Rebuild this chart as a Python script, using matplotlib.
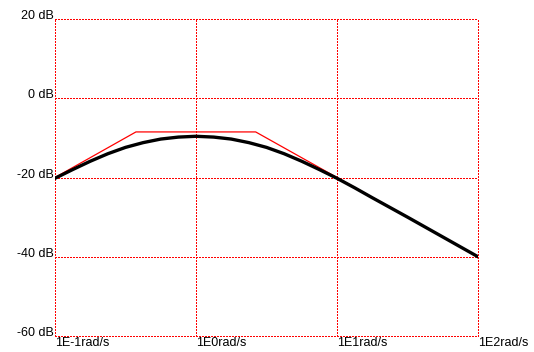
import matplotlib
matplotlib.use('Agg')
import matplotlib.pyplot as plt

# black curve: magnitude (rad/s, dB)
freq = [0.1, 0.1334, 0.1778, 0.2371, 0.3162, 0.4217, 0.5623, 0.7499, 1.0,
        1.334, 1.778, 2.371, 3.162, 4.217, 5.623, 7.499, 10.0, 13.34,
        17.78, 31.62, 56.23, 100.0]
mag = [-20.2, -18.0, -15.9, -14.0, -12.4, -11.2, -10.3, -9.8, -9.6,
       -9.8, -10.3, -11.2, -12.4, -14.0, -15.9, -18.0, -20.2, -22.6,
       -25.1, -30.0, -35.0, -40.0]

# red asymptotes
asym_freq = [0.1, 0.375, 2.65, 10.0, 100.0]
asym_mag = [-20.0, -8.5, -8.5, -20.0, -40.0]

xticks = [0.1, 1, 10, 100]
xlabels = ["1E-1rad/s", "1E0rad/s", "1E1rad/s", "1E2rad/s"]
yticks = [-60, -40, -20, 0, 20]
ylabels = ["-60 dB", "-40 dB", "-20 dB", "0 dB", "20 dB"]

plt.rcParams['font.family'] = ['Liberation Sans', 'DejaVu Sans']

fig = plt.figure(figsize=(5.34, 3.52), dpi=100)
ax = fig.add_axes([55 / 534, 16 / 352, 423 / 534, 317 / 352])

dots = (0, (1, 1))
ax.plot(asym_freq, asym_mag, color='red', lw=0.9, zorder=3)
ax.plot(freq, mag, color='black', lw=2.4, zorder=4)

ax.set_xscale('log')
ax.set_xlim(0.1, 100)
ax.set_ylim(-60, 20)
ax.set_xticks(xticks)
ax.set_xticklabels(xlabels, fontsize=9)
ax.minorticks_off()
ax.set_yticks(yticks)
ax.set_yticklabels(ylabels, fontsize=9)
ax.tick_params(length=0, pad=1)
for t in ax.get_xticklabels():
    t.set_ha('left')
for t in ax.get_yticklabels():
    t.set_va('baseline')

# dotted red grid, including the frame
for s in ax.spines.values():
    s.set_visible(False)
for x in xticks:
    ax.axvline(x, color='red', linestyle=dots, lw=0.75, antialiased=False, clip_on=False, zorder=1)
for y in yticks:
    ax.axhline(y, color='red', linestyle=dots, lw=0.75, antialiased=False, clip_on=False, zorder=1)

fig.savefig('out.png', dpi=100)
